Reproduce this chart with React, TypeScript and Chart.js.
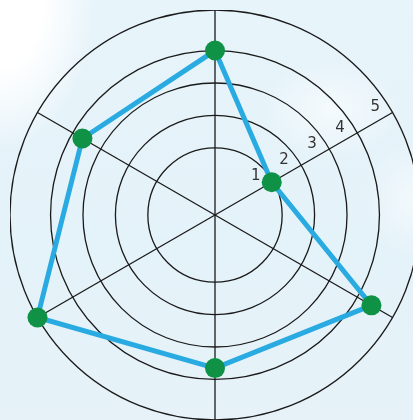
import React, { useEffect, useRef } from "react";
import { Chart, registerables } from "chart.js";

Chart.register(...registerables);

const categories = ["A", "B", "C", "D", "E", "F"];
const seriesValues = [4, 0.95, 4.5, 3.65, 5.25, 3.65];
const ringValues = [1, 2, 3, 4, 5.25];
const tickLabels = ["1", "2", "3", "4", "5"];
const scaleMin = -1.07;
const scaleMax = 5.25;

const tickLabelPlugin = {
  id: "tickLabelPlugin",
  afterDraw(chart: any) {
    const scale = chart.scales.r;
    const ctx = chart.ctx;
    const a = scale.getIndexAngle(1) - Math.PI / 2;
    const ux = Math.cos(a), uy = Math.sin(a);
    const nx = Math.sin(a), ny = -Math.cos(a);
    ctx.save();
    ctx.font = '15px "DejaVu Sans"';
    ctx.fillStyle = "#333333";
    ctx.textAlign = "center";
    ctx.textBaseline = "middle";
    ringValues.forEach((v, i) => {
      const d = scale.getDistanceFromCenterForValue(v);
      const along = d - 12.5;
      const perp = 13;
      const x = scale.xCenter + ux * along + nx * perp;
      const y = scale.yCenter + uy * along + ny * perp;
      ctx.fillText(tickLabels[i], x, y);
    });
    ctx.restore();
  },
};

export default function App() {
  const ref = useRef<HTMLCanvasElement>(null);
  useEffect(() => {
    const chart = new Chart(ref.current!, {
      type: "radar",
      data: {
        labels: categories,
        datasets: [
          {
            data: seriesValues,
            borderColor: "#29abe2",
            borderWidth: 5,
            backgroundColor: "transparent",
            fill: false,
            pointRadius: 10,
            pointBackgroundColor: "#0f9146",
            pointBorderWidth: 0,
            pointHoverRadius: 10,
          },
        ],
      },
      options: {
        responsive: false,
        animation: false,
        events: [],
        layout: { padding: 0 },
        plugins: { legend: { display: false }, tooltip: { enabled: false } },
        scales: {
          r: {
            min: scaleMin,
            max: scaleMax,
            afterBuildTicks: (s: any) => {
              s.ticks = ringValues.map((v) => ({ value: v }));
            },
            ticks: { display: false, showLabelBackdrop: false },
            pointLabels: { display: false },
            grid: { circular: true, color: "#1a1a1a", lineWidth: 1.3 },
            angleLines: { color: "#1a1a1a", lineWidth: 1.3 },
          },
        },
      },
      plugins: [tickLabelPlugin],
    } as any);
    return () => chart.destroy();
  }, []);

  return (
    <div
      style={{
        position: "fixed",
        left: 0,
        top: 0,
        width: 413,
        height: 420,
        overflow: "hidden",
        background:
          "radial-gradient(ellipse 95px 150px at 0px 0px, #ffffff 0%, #ffffff 45%, rgba(255,255,255,0.5) 75%, rgba(255,255,255,0) 100%)," +
          "radial-gradient(ellipse 70px 50px at 330px 110px, rgba(255,255,255,0.6), rgba(255,255,255,0))," +
          "radial-gradient(ellipse 50px 60px at 413px 200px, rgba(255,255,255,0.5), rgba(255,255,255,0))," +
          "linear-gradient(180deg, #e7f4fa 0%, #e4f2f9 60%, #e6f2f8 100%)",
      }}
    >
      <canvas
        ref={ref}
        width={410}
        height={410}
        style={{ position: "absolute", left: 10, top: 10, width: 410, height: 410 }}
      />
    </div>
  );
}
